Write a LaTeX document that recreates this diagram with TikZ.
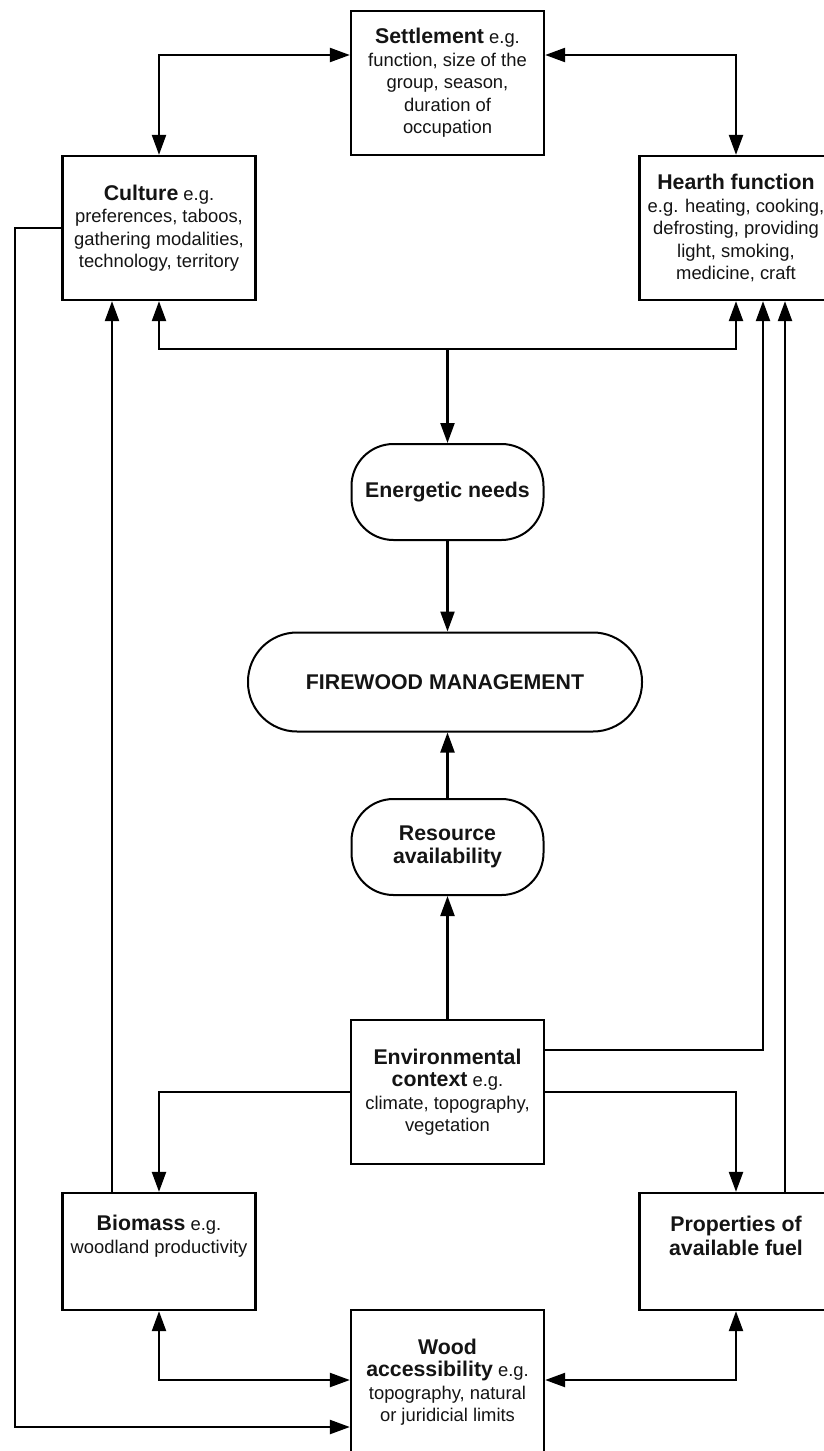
\documentclass[tikz,border=0pt]{standalone}
\usepackage{fontspec}
\setmainfont{Liberation Sans}
\usetikzlibrary{arrows.meta}
\newcommand\boxtitle[1]{{\fontsize{21.3}{22}\selectfont\bfseries #1}}
\begin{document}
\begin{tikzpicture}[x=1pt,y=-1pt,
  txt/.style={align=center, inner sep=0pt, font=\fontsize{18.4}{22.5}\selectfont, text=black!92},
  box/.style={txt, draw=black, line width=2.3pt, minimum width=193pt, minimum height=144pt},
  pill/.style={draw=black, line width=2pt, align=center, inner sep=0pt, text=black!92,
    font=\fontsize{21.3}{23}\selectfont\bfseries, minimum width=192pt, minimum height=96pt, rounded corners=42pt},
  tip/.tip={Triangle[length=20pt,width=14pt]},
  conn/.style={line width=2.3pt, -tip},
  biconn/.style={line width=2.3pt, tip-tip},
]
\fill[white] (0,0) rectangle (823,1451);
\useasboundingbox (0,0) rectangle (823,1451);

% boxes
\node[box] (settle) at (447.5,83) {\boxtitle{Settlement} e.g.\\ function, size of the\\ group, season,\\ duration of\\ occupation};
\node[box] (culture) at (159,228) {\boxtitle{Culture} e.g.\\ preferences, taboos,\\ gathering modalities,\\ technology, territory};
\node[box] (hearth) at (736,228) {\boxtitle{Hearth function}\\ e.g. heating, cooking,\\ defrosting, providing\\ light, smoking,\\ medicine, craft};
\node[pill] (energy) at (447.5,492) {Energetic needs};
\node[pill, minimum width=394pt, minimum height=99pt, rounded corners=49pt] (fire) at (445,682) {FIREWOOD MANAGEMENT};
\node[pill] (resource) at (447.5,847) {Resource\\ availability};
\node[box] (env) at (447.5,1092) {\boxtitle{Environmental}\\ \boxtitle{context} e.g.\\ climate, topography,\\ vegetation};
\node[box, minimum height=117pt] (biomass) at (159,1251.5) {};
\node[txt] (biomassT) at (159,1236) {\boxtitle{Biomass} e.g.\\ woodland productivity};
\node[box, minimum height=117pt] (props) at (736,1251.5) {};
\node[txt, font=\fontsize{21.3}{24}\selectfont\bfseries] (propsT) at (736,1236) {Properties of\\ available fuel};
\node[box] (wood) at (447.5,1382) {\boxtitle{Wood}\\ \boxtitle{accessibility} e.g.\\ topography, natural\\ or juridicial limits};

% helper coordinates
\coordinate (j) at (447.5,349);
\coordinate (lt) at (15,228);
\coordinate (lb) at (15,1427);

% connectors
\draw[biconn] (culture.north) |- ([yshift=28pt]settle.west);
\draw[biconn] (hearth.north) |- ([yshift=28pt]settle.east);
\draw[biconn] (culture.south) |- (j) -| (hearth.south);
\draw[conn] (j) -- (energy.north);
\draw[conn] (energy.south) -- (fire.north -| energy.south);
\draw[conn] (resource.north) -- (fire.south -| resource.north);
\draw[conn] (env.north) -- (resource.south);
\draw[conn] ([yshift=42pt]env.east) -| ([xshift=27pt]hearth.south);
\draw[conn] (env.east) -| (props.north);
\draw[conn] (env.west) -| (biomass.north);
\draw[conn] ([xshift=49pt]props.north) -- ([xshift=49pt]hearth.south);
\draw[conn] ([xshift=-47pt]biomass.north) -- ([xshift=-47pt]culture.south);
\draw[biconn] (biomass.south) |- ([yshift=2pt]wood.west);
\draw[biconn] (props.south) |- ([yshift=2pt]wood.east);
\draw[conn] (culture.west) -- (lt) -- (lb) -- (wood.west |- lb);
\end{tikzpicture}
\end{document}
